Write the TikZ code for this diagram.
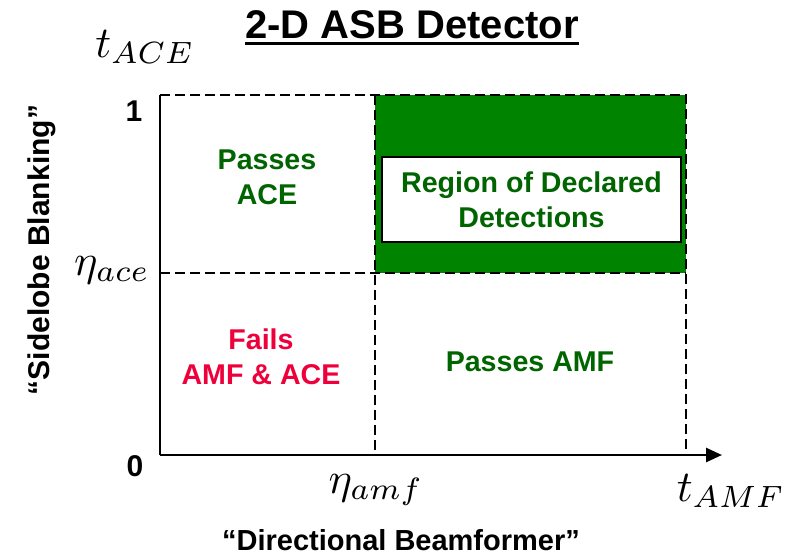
\documentclass[tikz,border=0pt]{standalone}
\usepackage{fontspec}
\setmainfont{Liberation Sans}
\usetikzlibrary{arrows.meta}
\definecolor{fillgreen}{RGB}{0,132,0}
\definecolor{textgreen}{RGB}{0,100,0}
\definecolor{failred}{RGB}{238,0,58}
\newcommand{\bigmath}[1]{\scalebox{4.4}{$#1$}}
\tikzset{
  lbl/.style={font=\bfseries\fontsize{28.6}{35}\selectfont, align=center, inner sep=0pt},
  axislbl/.style={font=\bfseries\fontsize{30}{36}\selectfont, inner sep=0pt},
  mathlbl/.style={inner sep=0pt},
  gridline/.style={draw=black, line width=2.3pt, dash pattern=on 10pt off 5pt},
  axisline/.style={draw=black, line width=2.6pt}
}
\begin{document}
\begin{tikzpicture}[x=1pt,y=-1pt]
\useasboundingbox (0,0) rectangle (802,558);

% corner points of the decision plane
\coordinate (O) at (160,455);
\coordinate (Ytop) at (160,95);
\coordinate (Xend) at (722,455);
\coordinate (AmfTop) at (375,95);
\coordinate (AmfBot) at (375,455);
\coordinate (AceLeft) at (160,273);
\coordinate (AceRight) at (686,273);
\coordinate (RightTop) at (686,95);
\coordinate (RightBot) at (686,455);

% accepted region
\fill[fillgreen] (AmfTop) rectangle (AceRight);

% threshold grid
\draw[gridline] (Ytop) -- (RightTop) -- (RightBot);
\draw[gridline] (AceLeft) -- (AceRight);
\draw[gridline] (AmfTop) -- (AmfBot);

% axes
\draw[axisline] (O) -- (Ytop);
\draw[axisline, -{Triangle[length=16pt,width=14pt]}] (O) -- (Xend);

% region labels
\node[lbl, draw=black, line width=1.6pt, fill=white, text=textgreen,
      minimum width=299pt, minimum height=85pt] (decl) at (531.5,199.5)
      {Region of Declared\\Detections};
\node[lbl, text=textgreen] (pace) at (267,177) {Passes\\ACE};
\node[lbl, text=failred] (fail) at (261,357) {Fails\\AMF \& ACE};
\node[lbl, text=textgreen] (pamf) at (530,362) {Passes AMF};

% title
\node[font=\bfseries\fontsize{40}{46}\selectfont, inner sep=0pt, anchor=base] (title) at (412,38) {2-D ASB Detector};
\draw[line width=2.8pt] ([yshift=-5.5pt]title.base west) -- ([yshift=-5.5pt]title.base east);

% tick labels
\node[axislbl] (one) at (134,111) {1};
\node[axislbl] (zero) at (135,466) {0};
\node[mathlbl] (eace) at (112,270) {\bigmath{\eta_{ace}}};
\node[mathlbl] (eamf) at (376,490) {\bigmath{\eta_{amf}}};
\node[mathlbl] (tace) at (145,47) {\bigmath{t_{ACE}}};
\node[mathlbl] (tamf) at (731,491) {\bigmath{t_{AMF}}};

% axis captions
\node[axislbl, rotate=90] (ylab) at (42,250) {“Sidelobe Blanking”};
\node[font=\bfseries\fontsize{29}{35}\selectfont, inner sep=0pt] (xlab) at (401,540) {“Directional Beamformer”};
\end{tikzpicture}
\end{document}
